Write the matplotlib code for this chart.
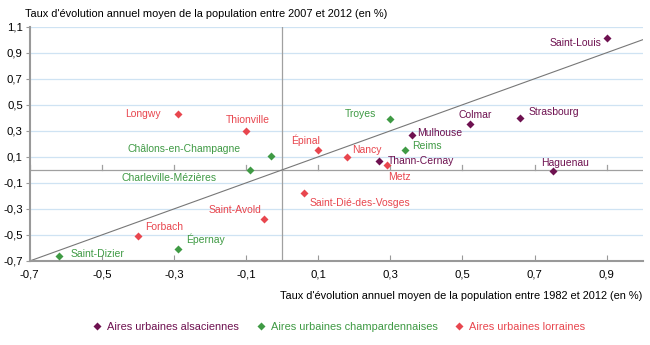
import numpy as np
import matplotlib.pyplot as plt

plt.rcParams['font.family'] = ['Liberation Sans', 'DejaVu Sans']

# x: 1982-2012, y: 2007-2012 (annual growth %)
alsace_names = ["Saint-Louis", "Strasbourg", "Colmar", "Mulhouse", "Thann-Cernay", "Haguenau"]
alsace_x = [0.90, 0.66, 0.52, 0.36, 0.27, 0.75]
alsace_y = [1.01, 0.40, 0.35, 0.27, 0.07, -0.01]

champ_names = ["Troyes", "Reims", "Châlons-en-Champagne", "Charleville-Mézières", "Épernay", "Saint-Dizier"]
champ_x = [0.30, 0.34, -0.03, -0.09, -0.29, -0.62]
champ_y = [0.39, 0.155, 0.11, 0.0, -0.61, -0.66]

lorr_names = ["Longwy", "Thionville", "Épinal", "Nancy", "Metz", "Saint-Dié-des-Vosges", "Saint-Avold", "Forbach"]
lorr_x = [-0.29, -0.10, 0.10, 0.18, 0.29, 0.06, -0.05, -0.40]
lorr_y = [0.43, 0.30, 0.15, 0.10, 0.04, -0.18, -0.38, -0.51]

series_labels = ["Aires urbaines alsaciennes", "Aires urbaines champardennaises", "Aires urbaines lorraines"]
xticks = [-0.7, -0.5, -0.3, -0.1, 0.1, 0.3, 0.5, 0.7, 0.9]
yticks = [-0.7, -0.5, -0.3, -0.1, 0.1, 0.3, 0.5, 0.7, 0.9, 1.1]

COLORS = ["#6e1150", "#3f9a44", "#e8464e"]

# label offsets in points (dx, dy, ha)
OFFSETS = {
    "Saint-Louis": (-4, -3, "right"), "Strasbourg": (6, 4, "left"),
    "Colmar": (4, 7, "center"), "Mulhouse": (4, 1, "left"),
    "Thann-Cernay": (6, 0, "left"), "Haguenau": (9, 6, "center"),
    "Troyes": (-10, 4, "right"), "Reims": (5, 3, "left"),
    "Châlons-en-Champagne": (-22, 5, "right"), "Charleville-Mézières": (-24, -6, "right"),
    "Épernay": (6, 7, "left"), "Saint-Dizier": (9, 1, "left"),
    "Longwy": (-12, 0, "right"), "Thionville": (1, 8, "center"),
    "Épinal": (-9, 7, "center"), "Nancy": (4, 5, "left"),
    "Metz": (1, -9, "left"), "Saint-Dié-des-Vosges": (4, -7, "left"),
    "Saint-Avold": (-2, 7, "right"), "Forbach": (5, 7, "left"),
}

fig = plt.figure(figsize=(6.5, 3.45), dpi=100)
ax = fig.add_axes([0.0457, 0.2435, 0.9431, 0.6791])

ax.set_xlim(-0.7, 1.0)
ax.set_ylim(-0.7, 1.1)

for y in yticks:
    ax.axhline(y, color="#cfe3f3", lw=0.9, zorder=0)
ax.axhline(0, color="#a0a0a0", lw=0.9, zorder=1)
ax.axvline(0, color="#a0a0a0", lw=0.9, zorder=1)
ax.plot([-0.7, 1.0], [-0.7, 1.0], color="#777777", lw=0.8, zorder=2)

# small ticks on the zero line
for x in xticks:
    ax.plot([x, x], [0, 0.035], color="#a0a0a0", lw=0.9, zorder=1)

groups = [(alsace_names, alsace_x, alsace_y), (champ_names, champ_x, champ_y), (lorr_names, lorr_x, lorr_y)]
for (names, xs, ys), col, lab in zip(groups, COLORS, series_labels):
    ax.plot(xs, ys, 'D', color=col, ms=4.5, mec='none', label=lab, zorder=3)
    for n, x, y in zip(names, xs, ys):
        dx, dy, ha = OFFSETS[n]
        ax.annotate(n, (x, y), xytext=(dx, dy), textcoords="offset points",
                    ha=ha, va="center", color=col, fontsize=7.5)

for s in ["top", "right"]:
    ax.spines[s].set_visible(False)
for s in ["left", "bottom"]:
    ax.spines[s].set_color("#999999")
    ax.spines[s].set_linewidth(1.5)

ax.set_xticks(xticks)
ax.set_yticks(yticks)
ax.set_xticklabels([f"{v:.1f}".replace(".", ",") for v in xticks], fontsize=8.2)
ax.set_yticklabels([f"{v:.1f}".replace(".", ",") for v in yticks], fontsize=8.2)
ax.tick_params(axis="x", direction="in", length=4, color="#999999", pad=6)
ax.tick_params(axis="y", direction="out", length=3, color="#999999", pad=2)

fig.text(0.038, 0.96, "Taux d'évolution annuel moyen de la population entre 2007 et 2012 (en %)",
         fontsize=7.9, va="center", ha="left")
fig.text(0.989, 0.142, "Taux d'évolution annuel moyen de la population entre 1982 et 2012 (en %)",
         fontsize=7.9, va="center", ha="right")

leg = fig.legend(loc="center", bbox_to_anchor=(0.52, 0.053), ncol=3, frameon=False,
                 fontsize=7.9, handletextpad=0.3, columnspacing=1.4, handlelength=1.2)
for t, col in zip(leg.get_texts(), COLORS):
    t.set_color(col)

fig.savefig("out.png", dpi=100)
